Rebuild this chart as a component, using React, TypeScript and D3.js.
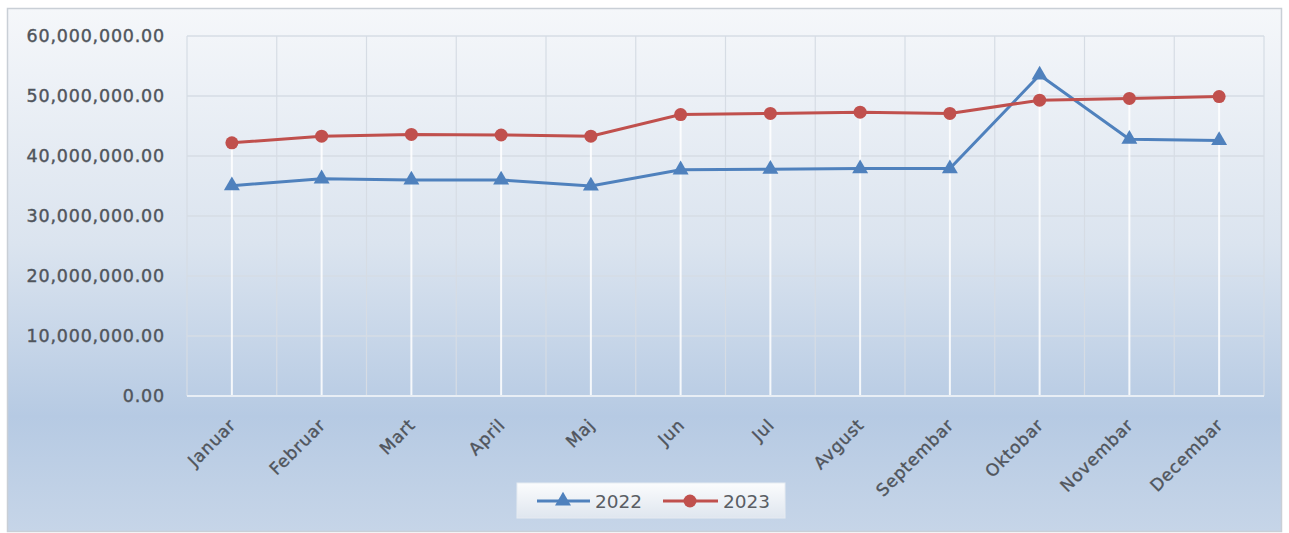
import React from 'react';
import * as d3 from 'd3';

const months = ['Januar', 'Februar', 'Mart', 'April', 'Maj', 'Jun', 'Jul', 'Avgust', 'Septembar', 'Oktobar', 'Novembar', 'Decembar'];
const values2022 = [35050000, 36200000, 36000000, 36000000, 35000000, 37700000, 37800000, 37900000, 37900000, 53500000, 42800000, 42600000];
const values2023 = [42200000, 43300000, 43600000, 43500000, 43300000, 46900000, 47100000, 47300000, 47100000, 49300000, 49600000, 49900000];
const yTicks = [0, 10000000, 20000000, 30000000, 40000000, 50000000, 60000000];

const BLUE = '#4f81bd';
const RED = '#c0504d';
const FONT = '"DejaVu Sans", Verdana, sans-serif';
const LABEL = '#50555c';

const App: React.FC = () => {
  const width = 1289;
  const height = 533;
  const plot = { left: 187, right: 1264, top: 36, bottom: 396 };

  const x = d3.scaleBand<string>().domain(months).range([plot.left, plot.right]);
  const y = d3.scaleLinear().domain([0, 60000000]).range([plot.bottom, plot.top]);
  const cx = (m: string) => (x(m) ?? 0) + x.bandwidth() / 2;

  const fmt = d3.format(',.2f');
  const line = d3.line<number>()
    .x((_, i) => cx(months[i]))
    .y(d => y(d));

  const tri = d3.symbol().type(d3.symbolTriangle).size(110)() || '';

  return (
    <svg width={width} height={height} style={{ position: 'absolute', left: 0, top: 0 }}>
      <defs>
        <linearGradient id="bg" x1="0" y1="0" x2="0" y2="1">
          <stop offset="0%" stopColor="#f5f7fa" />
          <stop offset="45%" stopColor="#dbe4ef" />
          <stop offset="78%" stopColor="#b6cae3" />
          <stop offset="100%" stopColor="#c6d5e8" />
        </linearGradient>
        <linearGradient id="legbg" x1="0" y1="0" x2="0" y2="1">
          <stop offset="0%" stopColor="#fbfcfd" />
          <stop offset="100%" stopColor="#dfe6ef" />
        </linearGradient>
      </defs>
      <rect x={7.5} y={8.5} width={1274} height={523} fill="url(#bg)" stroke="#c9cfd6" strokeWidth={1.5} />

      {/* horizontal gridlines */}
      {yTicks.filter(t => t > 0).map(t => (
        <line key={t} x1={plot.left} x2={plot.right} y1={y(t)} y2={y(t)} stroke="#d6dce4" strokeWidth={1.5} />
      ))}
      {/* vertical gridlines at category boundaries */}
      {months.map(m => (
        <line key={m} x1={x(m)} x2={x(m)} y1={plot.top} y2={plot.bottom} stroke="#d6dce4" strokeWidth={1.2} />
      ))}
      <line x1={plot.right} x2={plot.right} y1={plot.top} y2={plot.bottom} stroke="#d6dce4" strokeWidth={1.2} />

      {/* drop lines */}
      {months.map((m, i) => (
        <line key={'d' + m} x1={cx(m)} x2={cx(m)} y1={y(Math.max(values2022[i], values2023[i]))} y2={plot.bottom}
          stroke="#ffffff" strokeOpacity={0.85} strokeWidth={2} />
      ))}
      <line x1={plot.left} x2={plot.right} y1={plot.bottom} y2={plot.bottom} stroke="#e8eef5" strokeWidth={2} />

      {/* y axis labels */}
      {yTicks.map(t => (
        <text key={'y' + t} x={165} y={y(t)} dy="0.36em" textAnchor="end" fontFamily={FONT} fontSize={17.5}
          letterSpacing={0.8} fill={LABEL} stroke={LABEL} strokeWidth={0.4}>
          {fmt(t)}
        </text>
      ))}

      {/* x axis labels */}
      {months.map(m => (
        <text key={'x' + m} transform={`translate(${cx(m) + 5},${plot.bottom + 30}) rotate(-45)`} textAnchor="end"
          fontFamily={FONT} fontSize={17} letterSpacing={0.8} fill={LABEL} stroke={LABEL} strokeWidth={0.4}>
          {m}
        </text>
      ))}

      {/* series */}
      <path d={line(values2022) || ''} fill="none" stroke={BLUE} strokeWidth={3} />
      <path d={line(values2023) || ''} fill="none" stroke={RED} strokeWidth={3} />
      {values2022.map((v, i) => (
        <path key={'t' + i} d={tri} transform={`translate(${cx(months[i])},${y(v)})`} fill={BLUE} />
      ))}
      {values2023.map((v, i) => (
        <circle key={'c' + i} cx={cx(months[i])} cy={y(v)} r={6.5} fill={RED} />
      ))}

      {/* legend */}
      <g transform="translate(517,483)">
        <rect x={0} y={0} width={268} height={35} fill="url(#legbg)" stroke="#e6ebf1" />
        <line x1={20} x2={73} y1={18} y2={18} stroke={BLUE} strokeWidth={3} />
        <path d={tri} transform="translate(46,18)" fill={BLUE} />
        <text x={78} y={18} dy="0.36em" fontFamily={FONT} fontSize={18.5} fill="#5a5e64">2022</text>
        <line x1={146} x2={201} y1={18} y2={18} stroke={RED} strokeWidth={3} />
        <circle cx={173} cy={18} r={6.5} fill={RED} />
        <text x={206} y={18} dy="0.36em" fontFamily={FONT} fontSize={18.5} fill="#5a5e64">2023</text>
      </g>
    </svg>
  );
};

export default App;
